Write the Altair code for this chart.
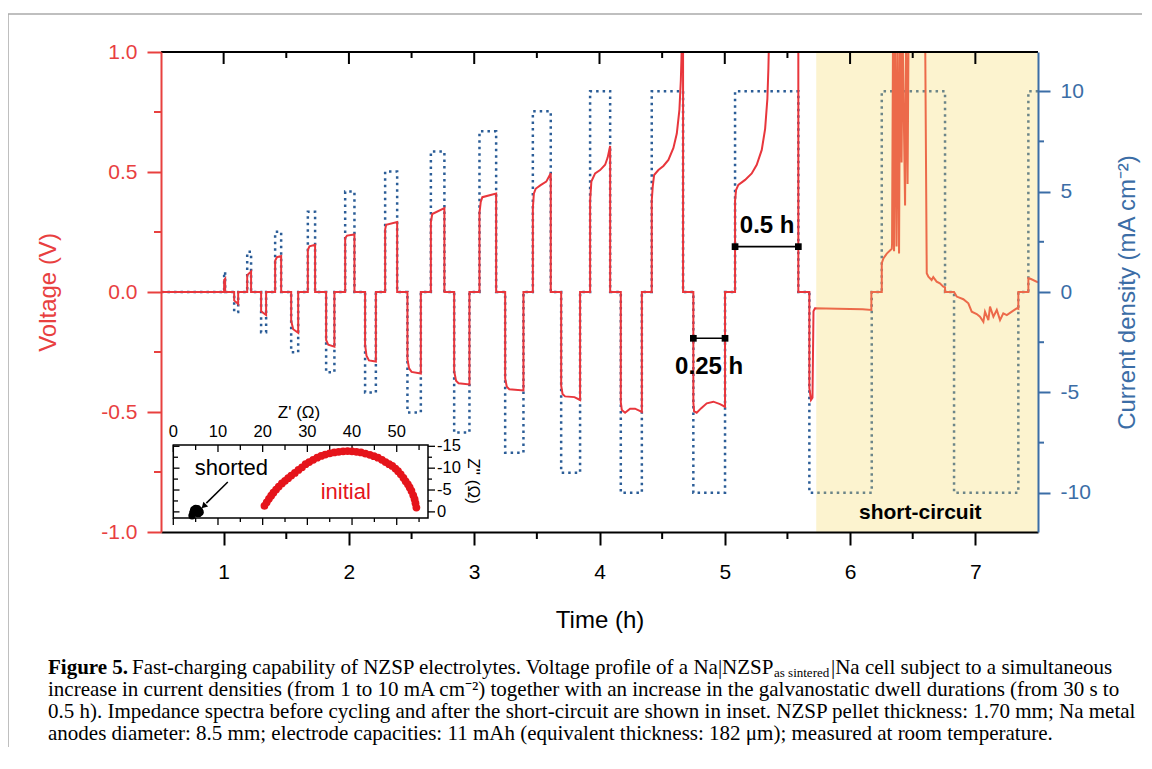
import altair as alt
import pandas as pd

# ---------------- current protocol (blue dotted, mA cm^-2) ----------------
pulse_start = [1.004, 1.084, 1.188, 1.299, 1.411, 1.539, 1.672, 1.818, 1.970, 2.129,
               2.289, 2.467, 2.654, 2.840, 3.042, 3.247, 3.468, 3.694, 3.925, 4.170,
               4.417, 4.749, 5.082, 5.675, 6.253, 6.830, 7.423]
pulse_end = [1.012, 1.116, 1.219, 1.339, 1.459, 1.595, 1.730, 1.884, 2.044, 2.215,
             2.385, 2.574, 2.762, 2.962, 3.175, 3.393, 3.611, 3.845, 4.085, 4.338,
             4.667, 5.002, 5.587, 6.173, 6.758, 7.343, 7.5]
pulse_level = [1, -1, 2, -2, 3, -3, 4, -4, 5, -5, 6, -6, 7, -7, 8, -8, 9, -9, 10, -10,
               10, -10, 10, -10, 10, -10, 10]

# ---------------- voltage profile (red, V) ----------------
volt_t = [0.5,
          1.004, 1.004, 1.012, 1.012,
          1.084, 1.084, 1.116, 1.116,
          1.188, 1.188, 1.219, 1.219,
          1.299, 1.299, 1.339, 1.339,
          1.411, 1.411, 1.425, 1.459, 1.459,
          1.539, 1.539, 1.555, 1.595, 1.595,
          1.672, 1.672, 1.685, 1.730, 1.730,
          1.818, 1.818, 1.835, 1.884, 1.884,
          1.970, 1.970, 1.985, 2.044, 2.044,
          2.129, 2.129, 2.140, 2.160, 2.215, 2.215,
          2.289, 2.289, 2.297, 2.385, 2.385,
          2.467, 2.467, 2.480, 2.500, 2.574, 2.574,
          2.654, 2.654, 2.665, 2.762, 2.762,
          2.840, 2.840, 2.855, 2.875, 2.962, 2.962,
          3.042, 3.042, 3.052, 3.065, 3.175, 3.175,
          3.247, 3.247, 3.260, 3.280, 3.393, 3.393,
          3.468, 3.468, 3.476, 3.490, 3.530, 3.575, 3.611, 3.611,
          3.694, 3.694, 3.705, 3.725, 3.800, 3.845, 3.845,
          3.925, 3.925, 3.935, 3.965, 4.005, 4.045, 4.065, 4.085, 4.085,
          4.170, 4.170, 4.178, 4.204, 4.244, 4.284, 4.338, 4.338,
          4.417, 4.417, 4.425, 4.436, 4.470, 4.510, 4.550, 4.590, 4.617, 4.638, 4.649, 4.654, 4.660, 4.667, 4.667,
          4.749, 4.749, 4.755, 4.776, 4.810, 4.856, 4.909, 4.962, 5.002, 5.002,
          5.082, 5.082, 5.090, 5.108, 5.162, 5.215, 5.255, 5.295, 5.322, 5.340, 5.348, 5.355, 5.587, 5.587,
          5.675, 5.675, 5.688, 5.700, 5.708, 5.720, 5.900, 6.100, 6.170, 6.170,
          6.253, 6.253, 6.266, 6.293, 6.333, 6.335, 6.343, 6.351, 6.359, 6.371, 6.379, 6.391, 6.399,
          6.411, 6.419, 6.439, 6.447, 6.459, 6.467, 6.599, 6.612, 6.625, 6.651, 6.664, 6.691, 6.717,
          6.744, 6.758, 6.758,
          6.830, 6.851, 6.904, 6.944, 6.971, 7.011, 7.037, 7.064, 7.077, 7.104, 7.117, 7.144, 7.171,
          7.197, 7.223, 7.251, 7.291, 7.330, 7.343, 7.343,
          7.423, 7.423, 7.440, 7.500]
volt_v = [0.0,
          0.0, 0.05, 0.055, 0.0,
          0.0, -0.035, -0.05, 0.0,
          0.0, 0.07, 0.085, 0.0,
          0.0, -0.08, -0.096, 0.0,
          0.0, 0.13, 0.145, 0.15, 0.0,
          0.0, -0.12, -0.155, -0.17, 0.0,
          0.0, 0.175, 0.19, 0.197, 0.0,
          0.0, -0.20, -0.22, -0.228, 0.0,
          0.0, 0.225, 0.235, 0.24, 0.0,
          0.0, -0.22, -0.265, -0.285, -0.29, 0.0,
          0.0, 0.26, 0.28, 0.292, 0.0,
          0.0, -0.28, -0.318, -0.333, -0.34, 0.0,
          0.0, 0.29, 0.325, 0.35, 0.0,
          0.0, -0.33, -0.37, -0.38, -0.385, 0.0,
          0.0, 0.33, 0.375, 0.395, 0.41, 0.0,
          0.0, -0.36, -0.395, -0.405, -0.41, 0.0,
          0.0, 0.35, 0.41, 0.43, 0.445, 0.46, 0.495, 0.0,
          0.0, -0.39, -0.425, -0.435, -0.438, -0.45, 0.0,
          0.0, 0.38, 0.46, 0.494, 0.508, 0.53, 0.56, 0.608, 0.0,
          0.0, -0.46, -0.492, -0.503, -0.486, -0.486, -0.50, 0.0,
          0.0, 0.38, 0.44, 0.4875, 0.508, 0.525, 0.55, 0.60, 0.66, 0.76, 0.88, 0.97, 1.1, 1.1, 0.0,
          0.0, -0.46, -0.497, -0.503, -0.485, -0.464, -0.457, -0.467, -0.478, 0.0,
          0.0, 0.38, 0.425, 0.446, 0.467, 0.494, 0.53, 0.592, 0.68, 0.805, 0.93, 1.1, 1.1, 0.0,
          0.0, -0.40, -0.45, -0.44, -0.08, -0.068, -0.07, -0.072, -0.075, 0.0,
          0.0, 0.12, 0.14, 0.16, 0.18, 0.20, 1.1, 0.17, 1.1, 0.19, 1.1, 0.16, 1.1,
          0.54, 1.1, 0.36, 1.1, 0.45, 1.1, 1.1, 0.078, 0.064, 0.05, 0.062, 0.043, 0.036,
          0.022, 0.02, 0.0,
          0.0, -0.019, -0.03, -0.047, -0.082, -0.092, -0.103, -0.124, -0.082, -0.117, -0.061, -0.103, -0.075,
          -0.117, -0.089, -0.096, -0.082, -0.068, -0.07, 0.0,
          0.0, 0.057, 0.055, 0.04]

# ---------------- annotations ----------------
bracket_t0 = [5.082, 4.749]
bracket_t1 = [5.587, 5.002]
bracket_v = [0.189, -0.193]
bracket_label = ["0.5 h", "0.25 h"]
bracket_label_t = [5.338, 4.875]
bracket_label_v = [0.275, -0.312]
short_t0, short_t1 = [5.73], [7.5]
short_label_t, short_label_v = [6.56], [-0.92]

# ---------------- tick values ----------------
time_major = [1, 2, 3, 4, 5, 6, 7]
time_minor = [1.5, 2.5, 3.5, 4.5, 5.5, 6.5]
volt_major = [-1.0, -0.5, 0.0, 0.5, 1.0]
volt_minor = [-0.75, -0.25, 0.25, 0.75]
cur_major = [-10, -5, 0, 5, 10]
cur_minor = [-7.5, -2.5, 2.5, 7.5]

# ---------------- inset (Nyquist) ----------------
init_zre = [20.4, 20.9, 21.4, 21.9, 22.4, 23.0, 23.6, 24.3, 25.0, 25.7, 26.4, 27.2, 28.0, 28.8,
            29.6, 30.4, 31.3, 32.2, 33.1, 34.0, 35.0, 36.0, 37.0, 38.0, 39.0, 40.0, 41.0, 42.0,
            43.0, 44.0, 44.9, 45.8, 46.7, 47.5, 48.3, 49.0, 49.7, 50.3, 50.9, 51.5, 52.0, 52.5,
            52.9, 53.3, 53.7, 54.0, 54.2, 54.4]
init_zim = [-1.4, -2.2, -3.0, -3.7, -4.4, -5.1, -5.8, -6.5, -7.1, -7.7, -8.3, -8.9, -9.6, -10.2,
            -10.9, -11.4, -11.9, -12.4, -12.8, -13.1, -13.4, -13.6, -13.75, -13.85, -13.9, -13.85,
            -13.75, -13.6, -13.35, -13.05, -12.75, -12.4, -11.9, -11.4, -10.9, -10.5, -9.9, -9.3,
            -8.6, -7.8, -7.0, -6.3, -5.6, -4.8, -3.8, -2.9, -2.0, -1.0]
short_zre = [4.2, 4.4, 4.6, 5.0, 5.4, 5.8, 6.0, 5.6, 5.0, 4.5, 4.8, 5.3]
short_zim = [0.9, 0.2, -0.5, -0.8, -0.7, -0.3, 0.1, 0.4, 0.2, -0.1, 0.0, -0.2]
inset_x_major = [0, 10, 20, 30, 40, 50]
inset_x_minor = [5, 15, 25, 35, 45, 55]
inset_y_major = [-15, -10, -5, 0]
inset_y_minor = [-12.5, -7.5, -2.5]
inset_notes = ["shorted", "initial"]
inset_notes_zre = [13.0, 38.6]
inset_notes_zim = [-10.0, -4.6]
arrow_zre = [12.2, 7.4]
arrow_zim = [-6.85, -2.0]
arrow_head_zre, arrow_head_zim = [6.8], [-1.3]

# ---------------- caption ----------------
cap_bold = "Figure 5."
cap_l1a = "Fast-charging capability of NZSP electrolytes. Voltage profile of a Na|NZSP"
cap_l1sub = "as sintered"
cap_l1b = "|Na cell subject to a simultaneous"
cap_l2 = "increase in current densities (from 1 to 10 mA cm\u207b\u00b2) together with an increase in the galvanostatic dwell durations (from 30 s to"
cap_l3 = "0.5 h). Impedance spectra before cycling and after the short-circuit are shown in inset. NZSP pellet thickness: 1.70 mm; Na metal"
cap_l4 = "anodes diameter: 8.5 mm; electrode capacities: 11 mAh (equivalent thickness: 182 \u03bcm); measured at room temperature."

# ---------------- styling ----------------
W, H = 877, 480
RED = "#e8363c"
RED_AX = "#e8403f"
BLUE_AX = "#3b6da6"
BLUE_DOT = "#2b5d97"
YELLOW = "#f6da6a"
INSET_RED = "#e5141b"
SANS = "Liberation Sans"
SERIF = "Liberation Serif"
CAP_FS = 21

X_MAIN = alt.Scale(domain=[0.5, 7.5], nice=False, zero=False)
Y_V = alt.Scale(domain=[-1, 1], nice=False, zero=False)
Y_I = alt.Scale(domain=[-11.95, 11.95], nice=False, zero=False)
X_IN = alt.Scale(domain=[0, 57], range=[12.3, 267], nice=False, zero=False)
Y_IN = alt.Scale(domain=[-15.3, 1.4], range=[393, 466], nice=False, zero=False)

x_axis = alt.Axis(orient="bottom", values=time_major, format="d", title="Time (h)", grid=False, zindex=1,
                  domainColor="black", domainWidth=2, tickColor="black", tickWidth=2, tickSize=13,
                  labelFontSize=21, labelColor="black", labelPadding=16, labelFont=SANS,
                  titleFontSize=24, titleFontWeight="normal", titleColor="black", titleFont=SANS,
                  titlePadding=26)
v_axis = alt.Axis(orient="left", values=volt_major, title="Voltage (V)", grid=False, zindex=1,
                  labelExpr="datum.value < 0 ? '-' + format(-datum.value, '.1f') : format(datum.value, '.1f')",
                  domainColor=RED_AX, domainWidth=2, tickColor=RED_AX, tickWidth=2, tickSize=14,
                  labelFontSize=21, labelColor=RED_AX, labelPadding=10, labelFont=SANS,
                  titleFontSize=24, titleFontWeight="normal", titleColor=RED_AX, titleFont=SANS,
                  titlePadding=40)
i_axis = alt.Axis(orient="right", values=cur_major, title="Current density (mA cm\u207b\u00b2)", grid=False,
                  zindex=1,
                  labelExpr="datum.value < 0 ? '-' + format(-datum.value, 'd') : format(datum.value, 'd')",
                  domainColor=BLUE_AX, domainWidth=2, tickColor=BLUE_AX, tickWidth=2, tickSize=12,
                  labelFontSize=21, labelColor=BLUE_AX, labelPadding=10, labelFont=SANS,
                  titleFontSize=24, titleFontWeight="normal", titleColor=BLUE_AX, titleFont=SANS,
                  titleAngle=270, titlePadding=49)

# ---------------- data frames ----------------
cur_t, cur_j = [0.5], [0]
for s, e, lv in zip(pulse_start, pulse_end, pulse_level):
    cur_t += [s, s, e]
    cur_j += [0, lv, lv]
    if e < 7.5:
        cur_t.append(e)
        cur_j.append(0)
cur_df = pd.DataFrame({"t": cur_t, "j": cur_j, "i": range(len(cur_t))})
volt_df = pd.DataFrame({"t": volt_t, "v": volt_v, "i": range(len(volt_t))})
br_df = pd.DataFrame({"t0": bracket_t0, "t1": bracket_t1, "v": bracket_v})
br_end_df = pd.DataFrame({"t": bracket_t0 + bracket_t1, "v": bracket_v + bracket_v})
br_lab_df = pd.DataFrame({"t": bracket_label_t, "v": bracket_label_v, "label": bracket_label})
shade_df = pd.DataFrame({"t0": short_t0, "t1": short_t1})
short_lab_df = pd.DataFrame({"t": short_label_t, "v": short_label_v, "label": ["short-circuit"]})


def one(text):
    return pd.DataFrame({"label": [text]})


def tx(field="t"):
    return alt.X(f"{field}:Q", scale=X_MAIN, axis=None)


def vy(field="v"):
    return alt.Y(f"{field}:Q", scale=Y_V, axis=None)


layers = []

# current (drawn first, under the voltage)
layers.append(alt.Chart(cur_df).mark_line(color=BLUE_DOT, strokeWidth=2.5, strokeDash=[2.5, 4]).encode(
    x=tx(), y=alt.Y("j:Q", scale=Y_I, axis=i_axis), order="i:Q"))
layers.append(alt.Chart(pd.DataFrame({"j": cur_minor})).mark_rule(color=BLUE_AX, strokeWidth=2).encode(
    y=alt.Y("j:Q", scale=Y_I, axis=None), x=alt.value(W), x2=alt.value(W + 6)))

# voltage
layers.append(alt.Chart(volt_df).mark_line(color=RED, strokeWidth=2, clip=True).encode(
    x=alt.X("t:Q", scale=X_MAIN, axis=x_axis),
    y=alt.Y("v:Q", scale=Y_V, axis=v_axis),
    order="i:Q"))
# short-circuit shading (translucent, over the traces)
layers.append(alt.Chart(shade_df).mark_rect(fill=YELLOW, opacity=0.32).encode(
    x=tx("t0"), x2="t1:Q", y=alt.value(0), y2=alt.value(H)))
layers.append(alt.Chart(short_lab_df).mark_text(font=SANS, fontSize=21, fontWeight="bold", color="black").encode(
    x=tx(), y=vy(), text="label:N"))
layers.append(alt.Chart(br_df).mark_rule(color="black", strokeWidth=1.6).encode(
    x=tx("t0"), x2="t1:Q", y=vy()))
layers.append(alt.Chart(br_end_df).mark_point(shape="square", filled=True, size=45, color="black",
                                              opacity=1).encode(x=tx(), y=vy()))
layers.append(alt.Chart(br_lab_df).mark_text(font=SANS, fontSize=24, fontWeight="bold", color="black").encode(
    x=tx(), y=vy(), text="label:N"))
# minor / mirrored ticks and top border
layers.append(alt.Chart(pd.DataFrame({"t": time_minor})).mark_rule(color="black", strokeWidth=2).encode(
    x=tx(), y=alt.value(H), y2=alt.value(H + 7)))
layers.append(alt.Chart(pd.DataFrame({"t": time_major})).mark_rule(color="black", strokeWidth=2).encode(
    x=tx(), y=alt.value(0), y2=alt.value(12)))
layers.append(alt.Chart(pd.DataFrame({"t": time_minor})).mark_rule(color="black", strokeWidth=2).encode(
    x=tx(), y=alt.value(0), y2=alt.value(6)))
layers.append(alt.Chart(pd.DataFrame({"v": volt_minor})).mark_rule(color=RED_AX, strokeWidth=2).encode(
    y=vy(), x=alt.value(-7), x2=alt.value(0)))
layers.append(alt.Chart(one("top")).mark_rule(color="black", strokeWidth=2).encode(
    x=alt.value(0), x2=alt.value(W), y=alt.value(0)))

# ---------------- inset ----------------
layers.append(alt.Chart(one("frame")).mark_rect(fill="white", stroke="black", strokeWidth=1.5).encode(
    x=alt.value(12.3), x2=alt.value(267), y=alt.value(393), y2=alt.value(466)))
ix_major_df = pd.DataFrame({"z": inset_x_major, "lab": [str(v) for v in inset_x_major]})
ix_minor_df = pd.DataFrame({"z": inset_x_minor})
iy_major_df = pd.DataFrame({"z": inset_y_major,
                            "lab": [("-" + str(-v)) if v < 0 else str(v) for v in inset_y_major]})
iy_minor_df = pd.DataFrame({"z": inset_y_minor})


def xtick(df, y0, y1):
    return alt.Chart(df).mark_rule(color="black", strokeWidth=1.3).encode(
        x=alt.X("z:Q", scale=X_IN, axis=None), y=alt.value(y0), y2=alt.value(y1))


def ytick(df, x0, x1):
    return alt.Chart(df).mark_rule(color="black", strokeWidth=1.3).encode(
        y=alt.Y("z:Q", scale=Y_IN, axis=None), x=alt.value(x0), x2=alt.value(x1))


layers += [xtick(ix_major_df, 393, 400), xtick(ix_minor_df, 393, 398),
           xtick(ix_major_df, 466, 473), xtick(ix_minor_df, 466, 470),
           ytick(iy_major_df, 12.3, 18.5), ytick(iy_minor_df, 12.3, 17),
           ytick(iy_major_df, 267, 274), ytick(iy_minor_df, 267, 271)]
layers.append(alt.Chart(ix_major_df).mark_text(font=SANS, fontSize=16.5, color="black").encode(
    x=alt.X("z:Q", scale=X_IN, axis=None), y=alt.value(380), text="lab:N"))
layers.append(alt.Chart(iy_major_df).mark_text(font=SANS, fontSize=16.5, color="black", align="left",
                                               baseline="middle").encode(
    y=alt.Y("z:Q", scale=Y_IN, axis=None), x=alt.value(276), text="lab:N"))
layers.append(alt.Chart(one("Z' (\u03a9)")).mark_text(font=SANS, fontSize=17, color="black").encode(
    x=alt.value(138), y=alt.value(361), text="label:N"))
layers.append(alt.Chart(one("Z'' (\u03a9)")).mark_text(font=SANS, fontSize=17, color="black", angle=90).encode(
    x=alt.value(312), y=alt.value(429), text="label:N"))
layers.append(alt.Chart(pd.DataFrame({"zr": init_zre, "zi": init_zim})).mark_circle(
    color=INSET_RED, size=60, opacity=1).encode(
    x=alt.X("zr:Q", scale=X_IN, axis=None), y=alt.Y("zi:Q", scale=Y_IN, axis=None)))
layers.append(alt.Chart(pd.DataFrame({"zr": short_zre, "zi": short_zim})).mark_circle(
    color="black", size=55, opacity=1).encode(
    x=alt.X("zr:Q", scale=X_IN, axis=None), y=alt.Y("zi:Q", scale=Y_IN, axis=None)))
notes_df = pd.DataFrame({"zr": inset_notes_zre, "zi": inset_notes_zim, "label": inset_notes,
                         "col": ["black", INSET_RED]})
layers.append(alt.Chart(notes_df).mark_text(font=SANS, fontSize=22).encode(
    x=alt.X("zr:Q", scale=X_IN, axis=None), y=alt.Y("zi:Q", scale=Y_IN, axis=None),
    text="label:N", color=alt.Color("col:N", scale=None)))
layers.append(alt.Chart(pd.DataFrame({"zr": [arrow_zre[0]], "zi": [arrow_zim[0]],
                                      "zr2": [arrow_zre[1]], "zi2": [arrow_zim[1]]})).mark_rule(
    color="black", strokeWidth=1.5).encode(
    x=alt.X("zr:Q", scale=X_IN, axis=None), y=alt.Y("zi:Q", scale=Y_IN, axis=None), x2="zr2:Q", y2="zi2:Q"))
layers.append(alt.Chart(pd.DataFrame({"zr": arrow_head_zre, "zi": arrow_head_zim})).mark_point(
    shape="triangle-up", filled=True, size=45, color="black", opacity=1, angle=225).encode(
    x=alt.X("zr:Q", scale=X_IN, axis=None), y=alt.Y("zi:Q", scale=Y_IN, axis=None)))


# ---------------- caption & page frame ----------------
def cap(text, x, y, size=CAP_FS, weight="normal"):
    return alt.Chart(one(text)).mark_text(font=SERIF, fontSize=size, fontWeight=weight, color="black",
                                          align="left", baseline="alphabetic").encode(
        x=alt.value(x), y=alt.value(y), text="label:N")


layers += [cap(cap_bold, -113, 622, size=21, weight="bold"), cap(cap_l1a, -29, 622, size=21),
           cap(cap_l1sub, 613, 625, size=13), cap(cap_l1b, 670, 622, size=21),
           cap(cap_l2, -113, 644), cap(cap_l3, -113, 666), cap(cap_l4, -113, 688)]
layers.append(alt.Chart(one("pt")).mark_rule(color="#aaaaaa", strokeWidth=1.5).encode(
    x=alt.value(-153), x2=alt.value(985), y=alt.value(-38)))
layers.append(alt.Chart(one("pl")).mark_rule(color="#aaaaaa", strokeWidth=1.5).encode(
    x=alt.value(-153), y=alt.value(-38), y2=alt.value(720)))

chart = alt.layer(*layers).resolve_scale(x="independent", y="independent").properties(
    width=W, height=H,
    autosize=alt.AutoSizeParams(type="none"),
    padding={"left": 153, "top": 44, "right": 104, "bottom": 215},
    background="white",
).configure_view(stroke=None)

chart.save("out.html", embed_options={"renderer": "svg", "actions": False})
